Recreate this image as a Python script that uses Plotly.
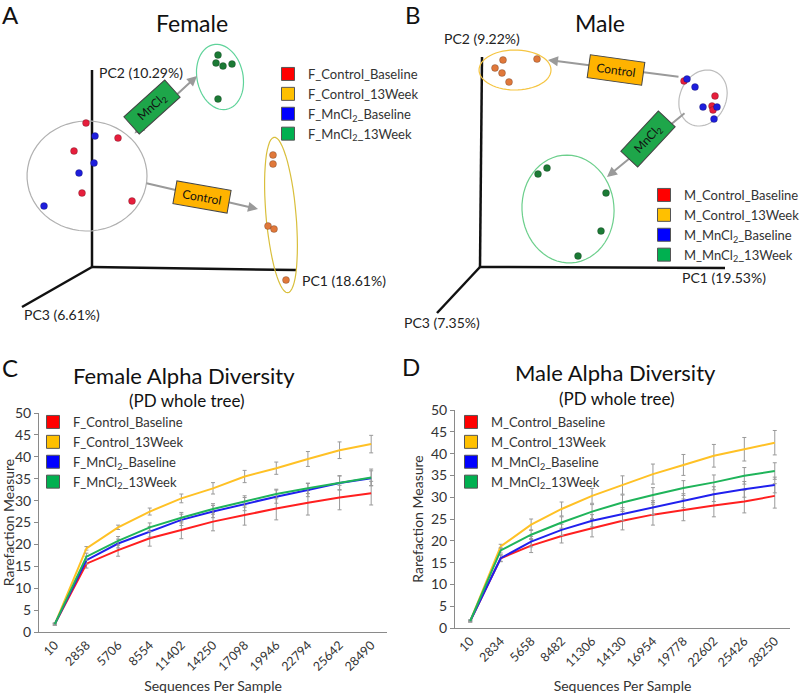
import numpy as np
import plotly.graph_objects as go

# ---- PCoA points (projected screen positions) ----
f_cb_x = [86, 118, 74, 82, 132]
f_cb_y = [123, 138, 151, 193, 201]
f_c13_x = [273, 273, 268, 274, 286]
f_c13_y = [155, 164, 226, 229, 280]
f_mb_x = [95, 94, 79, 44]
f_mb_y = [136, 163, 173, 206]
f_m13_x = [218, 216, 223, 232, 218]
f_m13_y = [55, 63, 66, 64, 99]

m_cb_x = [684, 715, 712, 713]
m_cb_y = [81, 96, 106, 110]
m_c13_x = [503, 537, 495, 502, 509]
m_c13_y = [60, 59, 68, 73, 82]
m_mb_x = [687, 695, 703, 717, 714]
m_mb_y = [79, 87, 107, 107, 119]
m_m13_x = [538, 547, 606, 601, 578]
m_m13_y = [174, 168, 193, 231, 256]

# ---- rarefaction (PD whole tree) ----
f_seqs = ["10", "2858", "5706", "8554", "11402", "14250", "17098", "19946", "22794", "25642", "28490"]
f_ctrl_base = [1.8, 15.6, 18.7, 21.4, 23.3, 25.2, 26.7, 28.2, 29.5, 30.7, 31.7]
f_ctrl_base_err = [0.2, 1.0, 1.4, 1.8, 2.0, 2.1, 2.3, 2.6, 2.8, 2.8, 2.7]
f_ctrl_13 = [1.8, 19.1, 23.9, 27.5, 30.5, 32.8, 35.5, 37.4, 39.5, 41.5, 42.9]
f_ctrl_13_err = [0.2, 0.4, 0.5, 0.8, 1.0, 1.3, 1.4, 1.4, 1.7, 1.9, 2.0]
f_mn_base = [1.8, 16.4, 20.2, 22.9, 25.6, 27.5, 29.2, 30.9, 32.4, 34.0, 35.1]
f_mn_base_err = [0.2, 0.9, 1.0, 1.2, 1.3, 1.4, 1.5, 1.5, 1.5, 1.6, 1.7]
f_mn_13 = [1.8, 17.2, 20.8, 23.9, 26.1, 28.1, 29.8, 31.5, 32.8, 34.1, 35.3]
f_mn_13_err = [0.2, 0.8, 1.0, 1.0, 1.2, 1.2, 1.3, 1.1, 1.2, 1.6, 1.9]

m_seqs = ["10", "2834", "5658", "8482", "11306", "14130", "16954", "19778", "22602", "25426", "28250"]
m_ctrl_base = [1.6, 16.0, 18.9, 21.1, 22.9, 24.6, 26.0, 27.1, 28.1, 29.0, 30.3]
m_ctrl_base_err = [0.2, 0.8, 1.6, 1.6, 2.0, 2.1, 2.4, 2.5, 2.6, 2.6, 2.8]
m_ctrl_13 = [1.6, 18.7, 23.7, 27.3, 30.3, 32.8, 35.3, 37.4, 39.5, 41.0, 42.5]
m_ctrl_13_err = [0.2, 0.5, 1.3, 1.6, 1.7, 2.1, 2.3, 2.4, 2.6, 2.7, 2.8]
m_mn_base = [1.6, 16.0, 19.8, 22.5, 24.6, 26.1, 27.6, 29.2, 30.7, 31.8, 32.8]
m_mn_base_err = [0.2, 0.7, 1.2, 1.3, 1.4, 1.5, 1.6, 1.6, 1.7, 1.8, 1.8]
m_mn_13 = [1.6, 17.8, 21.4, 24.2, 26.7, 28.8, 30.5, 32.1, 33.4, 34.9, 36.0]
m_mn_13_err = [0.2, 0.6, 1.1, 1.3, 1.6, 1.7, 1.7, 1.7, 1.7, 1.9, 1.9]

FONT = "Lato"
PT_COL = {"cb": "#e61e3c", "c13": "#e0783a", "mb": "#1e1edc", "m13": "#1b7a35"}
LEG_COL = {"cb": "#ff0000", "c13": "#ffc000", "mb": "#0000ff", "m13": "#00b050"}
LINE_COL = {"cb": "#ff1f1f", "c13": "#ffc125", "mb": "#2020ee", "m13": "#1fb45a"}

W, H = 800, 694
fig = go.Figure()


def ellipse_path(cx, cy, rx, ry, ang):
    t = np.linspace(0, 2 * np.pi, 60)
    a = np.radians(ang)
    xs = cx + rx * np.cos(t) * np.cos(a) - ry * np.sin(t) * np.sin(a)
    ys = cy + rx * np.cos(t) * np.sin(a) + ry * np.sin(t) * np.cos(a)
    pts = ["%.1f,%.1f" % (x, y) for x, y in zip(xs, ys)]
    return "M" + " L".join(pts) + " Z"


# ---- PCoA scatter panels on a pixel-scaled overlay axis ----
pcoa = [
    ("F", [(f_cb_x, f_cb_y, "cb"), (f_c13_x, f_c13_y, "c13"), (f_mb_x, f_mb_y, "mb"), (f_m13_x, f_m13_y, "m13")], "legend"),
    ("M", [(m_cb_x, m_cb_y, "cb"), (m_c13_x, m_c13_y, "c13"), (m_mb_x, m_mb_y, "mb"), (m_m13_x, m_m13_y, "m13")], "legend2"),
]
names = {"cb": "_Control_Baseline", "c13": "_Control_13Week",
         "mb": "_MnCl<sub>2</sub>_Baseline", "m13": "_MnCl<sub>2</sub>_13Week"}

for sex, groups, leg in pcoa:
    for xs, ys, key in groups:
        fig.add_trace(go.Scatter(
            x=xs, y=ys, mode="markers", xaxis="x5", yaxis="y5", showlegend=False,
            marker=dict(size=7, color=PT_COL[key], line=dict(width=0.6, color="rgba(0,0,0,0.35)")),
        ))
    for key in ["cb", "c13", "mb", "m13"]:
        fig.add_trace(go.Scatter(
            x=[None], y=[None], mode="markers", xaxis="x5", yaxis="y5",
            name=sex + names[key], legend=leg,
            marker=dict(size=13, symbol="square", color=LEG_COL[key], line=dict(width=1, color="#555")),
        ))

# ---- rarefaction panels ----
rare = [
    ("F", f_seqs, [(f_ctrl_base, f_ctrl_base_err, "cb"), (f_ctrl_13, f_ctrl_13_err, "c13"),
                   (f_mn_base, f_mn_base_err, "mb"), (f_mn_13, f_mn_13_err, "m13")], "x", "y", "legend3"),
    ("M", m_seqs, [(m_ctrl_base, m_ctrl_base_err, "cb"), (m_ctrl_13, m_ctrl_13_err, "c13"),
                   (m_mn_base, m_mn_base_err, "mb"), (m_mn_13, m_mn_13_err, "m13")], "x2", "y2", "legend4"),
]
for sex, cats, series, xa, ya, leg in rare:
    for vals, err, key in series:
        fig.add_trace(go.Scatter(
            x=cats, y=vals, mode="lines", xaxis=xa, yaxis=ya, showlegend=False,
            line=dict(color=LINE_COL[key], width=2),
            error_y=dict(type="data", array=err, color="#9a9a9a", thickness=1, width=2),
        ))
    for key in ["cb", "c13", "mb", "m13"]:
        fig.add_trace(go.Scatter(
            x=[None], y=[None], mode="markers", xaxis=xa, yaxis=ya,
            name=sex + names[key], legend=leg,
            marker=dict(size=13, symbol="square", color=LEG_COL[key], line=dict(width=1, color="#555")),
        ))

shapes = []
# pseudo-3D axes
for x0, y0, x1, y1 in [(92, 267, 92, 70), (92, 267, 296, 270), (92, 267, 22, 307),
                       (480, 267, 482, 57), (480, 267, 725, 268), (480, 267, 437, 313)]:
    shapes.append(dict(type="line", xref="x5", yref="y5", x0=x0, y0=y0, x1=x1, y1=y1,
                       line=dict(color="#111", width=2.5), layer="below"))
# group ellipses
for cx, cy, rx, ry, ang, col in [(87, 176, 60, 55, 0, "#b0b0b0"), (220, 77, 23, 33, -12, "#5fd39a"),
                                 (281, 215, 15, 78, -5, "#d9bf3c"),
                                 (515, 70, 36, 20, 0, "#f5c542"), (703, 98, 23, 29, 25, "#bdbdbd"),
                                 (568, 209, 46, 54, -5, "#6ccf8c")]:
    shapes.append(dict(type="path", xref="x5", yref="y5", path=ellipse_path(cx, cy, rx, ry, ang),
                       line=dict(color=col, width=1.2), layer="below"))

ann = []


def txt(x, y, s, size, color="#222", **kw):
    ann.append(dict(x=x, y=y, xref="x5", yref="y5", text=s, showarrow=False,
                    font=dict(family=FONT, size=size, color=color), **kw))


# arrows
for tx, ty, hx, hy, side in [(133, 135, 197, 76, "end+start"), (145, 183, 258, 209, "end"),
                             (680, 77, 548, 60, "end"), (686, 112, 607, 177, "end")]:
    ann.append(dict(x=hx, y=hy, ax=tx, ay=ty, xref="x5", yref="y5", axref="x5", ayref="y5",
                    text="", showarrow=True, arrowhead=2, arrowsize=1, arrowwidth=2,
                    arrowcolor="#9a9a9a", arrowside=side))
# treatment boxes
for x, y, s, ang, bg in [(152, 107, "MnCl<sub>2</sub>", -42, "#1ea64a"), (202, 197, "Control", 10, "#ffb300"),
                         (616, 70, "Control", 8, "#ffb300"), (648, 139, "MnCl<sub>2</sub>", -47, "#1ea64a")]:
    txt(x, y, s, 12, "#111", textangle=ang, bgcolor=bg, bordercolor="#444", borderwidth=1,
        width=52, height=20)

# panel letters and titles
txt(10, 14, "A", 24, "#111")
txt(413, 14, "B", 24, "#111")
txt(10, 367, "C", 24, "#111")
txt(411, 366, "D", 24, "#111")
txt(192, 23, "Female", 23, "#111")
txt(600, 23, "Male", 23, "#111")
txt(184, 375, "Female Alpha Diversity", 22, "#111")
txt(187, 400, "(PD whole tree)", 17, "#111")
txt(615, 372, "Male Alpha Diversity", 22, "#111")
txt(617, 398, "(PD whole tree)", 17, "#111")
# axis labels for PCoA
txt(97, 72, "PC2 (10.29%)", 14, xanchor="left")
txt(300, 280, "PC1 (18.61%)", 14, xanchor="left")
txt(22, 314, "PC3 (6.61%)", 14, xanchor="left")
txt(442, 38, "PC2 (9.22%)", 14, xanchor="left")
txt(680, 277, "PC1 (19.53%)", 14, xanchor="left")
txt(402, 322, "PC3 (7.35%)", 14, xanchor="left")


def py(p):
    return 1 - p / H


legfont = dict(family=FONT, size=13, color="#333")
leg_common = dict(font=legfont, bgcolor="rgba(0,0,0,0)", xanchor="left", yanchor="top",
                  itemclick=False, tracegroupgap=0)

ycommon = dict(range=[0, 50], tickvals=list(range(0, 51, 5)), showline=True, linecolor="#8a8a8a",
               ticks="outside", ticklen=4, tickcolor="#8a8a8a", showgrid=False, zeroline=False,
               automargin=False, tickfont=dict(family=FONT, size=14, color="#333"),
               title=dict(text="Rarefaction Measure", font=dict(family=FONT, size=14, color="#333"), standoff=4))
xcommon = dict(type="category", range=[-0.5, 10.5], showline=True, linecolor="#8a8a8a", ticks="",
               tickangle=-45, showgrid=False, automargin=False, tickfont=dict(family=FONT, size=12.5, color="#333"),
               title=dict(text="Sequences Per Sample", font=dict(family=FONT, size=14, color="#333"), standoff=12))

fig.update_layout(
    width=W, height=H, margin=dict(l=0, r=0, t=0, b=0, autoexpand=False),
    paper_bgcolor="white", plot_bgcolor="rgba(0,0,0,0)",
    font=dict(family=FONT),
    xaxis=dict(domain=[39 / W, 387 / W], anchor="y", **xcommon),
    yaxis=dict(domain=[py(632), py(413)], anchor="x", **ycommon),
    xaxis2=dict(domain=[455 / W, 790 / W], anchor="y2", **xcommon),
    yaxis2=dict(domain=[py(628), py(410)], anchor="x2", **ycommon),
    xaxis5=dict(domain=[0, 1], range=[0, W], visible=False, anchor="y5", fixedrange=True),
    yaxis5=dict(domain=[0, 1], range=[H, 0], visible=False, anchor="x5", fixedrange=True),
    legend=dict(x=268 / W, y=py(59), **leg_common),
    legend2=dict(x=644 / W, y=py(180), **leg_common),
    legend3=dict(x=33 / W, y=py(407), **leg_common),
    legend4=dict(x=451 / W, y=py(407), **leg_common),
    shapes=shapes, annotations=ann,
)

# the page's default body margin would shift the figure by 8px
fig.write_html("out.html", config={"displayModeBar": False},
               post_script="document.body.style.margin='0px';")
